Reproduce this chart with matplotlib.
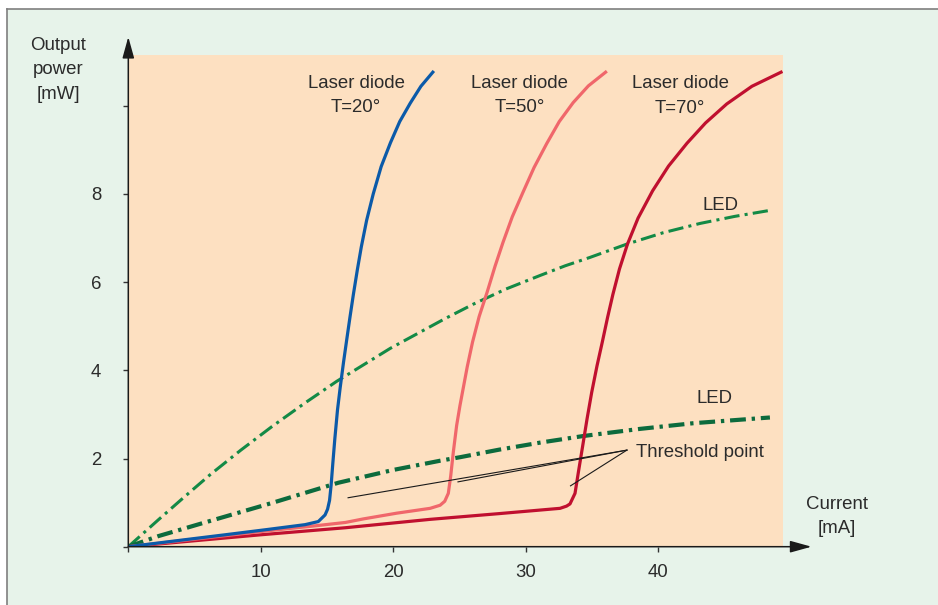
import matplotlib
matplotlib.use('Agg')
from matplotlib import pyplot as plt
from matplotlib.patches import Rectangle
from matplotlib.lines import Line2D

# curves (current in mA, power in mW)
blue_x = [0, 3.5, 7.3, 10.5, 13.35, 14.35, 14.86, 15.05, 15.2, 15.32, 15.45, 15.6, 15.8, 16.0, 16.25,
          16.5, 16.75, 17.0, 17.3, 17.6, 18.0, 18.5, 19.1, 19.8, 20.5, 21.3, 22.1, 23.0]
blue_y = [0, 0.13, 0.27, 0.39, 0.5, 0.57, 0.72, 0.85, 1.05, 1.4, 1.9, 2.45, 3.1, 3.6, 4.17,
          4.7, 5.22, 5.72, 6.28, 6.8, 7.4, 8.0, 8.62, 9.16, 9.64, 10.06, 10.44, 10.76]

pink_x = [0, 5, 10.5, 14, 16.4, 17.75, 20.27, 22.8, 23.55, 23.9, 24.17, 24.35, 24.55, 24.8, 25.05,
          25.3, 25.6, 26.0, 26.5, 27.1, 27.7, 28.3, 29.0, 29.8, 30.65, 31.6, 32.55, 33.6, 34.75, 36.05]
pink_y = [0, 0.17, 0.36, 0.47, 0.55, 0.63, 0.76, 0.87, 0.94, 1.03, 1.21, 1.6, 2.15, 2.75, 3.2,
          3.6, 4.08, 4.64, 5.22, 5.77, 6.36, 6.9, 7.48, 8.03, 8.6, 9.14, 9.64, 10.07, 10.45, 10.76]

red_x = [0, 10, 16.4, 22.79, 28, 32.61, 33.1, 33.36, 33.74, 34.0, 34.3, 34.65, 35.0, 35.4, 35.8,
         36.2, 36.6, 37.1, 37.7, 38.5, 39.6, 40.8, 42.2, 43.6, 45.2, 47.1, 49.3]
red_y = [0, 0.27, 0.43, 0.62, 0.75, 0.87, 0.92, 0.97, 1.21, 1.7, 2.25, 2.9, 3.5, 4.1, 4.64,
         5.2, 5.72, 6.3, 6.86, 7.45, 8.07, 8.63, 9.15, 9.61, 10.04, 10.44, 10.76]

led1_x = [0, 2.27, 4.2, 6.17, 8.5, 10.83, 13.3, 15.74, 19.8, 23.85, 26.06, 28.5, 31.1, 33.0,
          34.87, 37.64, 40.4, 43.18, 45.8, 48.34]
led1_y = [0, 0.61, 1.12, 1.63, 2.19, 2.72, 3.25, 3.75, 4.5, 5.16, 5.5, 5.84, 6.15, 6.37,
          6.56, 6.86, 7.12, 7.33, 7.49, 7.62]

led2_x = [0, 2.27, 5.79, 10.83, 15.86, 20.0, 23.56, 25.07, 28.0, 31.1, 34.37, 38.6, 42.67, 48.46]
led2_y = [0, 0.24, 0.55, 0.99, 1.45, 1.74, 1.95, 2.03, 2.2, 2.36, 2.51, 2.67, 2.8, 2.93]

x_ticks = [0, 10, 20, 30, 40]
x_labels = ['', '10', '20', '30', '40']
y_ticks = [0, 2, 4, 6, 8, 10]
y_labels = ['', '2', '4', '6', '8', '']

# threshold pointer: apex and the three ends
thr_apex = (37.66, 2.19)
thr_ends = [(16.6, 1.11), (24.9, 1.47), (33.4, 1.38)]

plt.rcParams['font.family'] = ['Liberation Sans', 'DejaVu Sans']
txt = '#2b2b2b'
W, H = 938, 605

fig = plt.figure(figsize=(W / 100, H / 100), dpi=100, facecolor='white')
fig.patches.append(Rectangle((7 / W, 0), 1, (H - 9) / H, transform=fig.transFigure,
                             facecolor='#e7f3ea', edgecolor='none', zorder=-10))
fig.lines.append(Line2D([7 / W, 1], [(H - 9) / H] * 2, transform=fig.transFigure,
                        color='#7f7f7f', lw=1.2, zorder=-5))
fig.lines.append(Line2D([7 / W] * 2, [0, (H - 9) / H], transform=fig.transFigure,
                        color='#7f7f7f', lw=1.2, zorder=-5))

x0, y0 = 128.3, 546.7
sx, sy = 13.24, 44.1
ax = fig.add_axes([x0 / W, (H - y0) / H, (783 - x0) / W, (y0 - 55) / H])
ax.set_zorder(1)
ax.set_facecolor('#fde0c1')
ax.set_xlim(0, (783 - x0) / sx)
ax.set_ylim(0, (y0 - 55) / sy)
for s in ax.spines.values():
    s.set_visible(False)

ax.plot(led1_x, led1_y, color='#138a46', lw=2.2, linestyle=(0, (5, 1.7, 1, 1.7)))
ax.plot(led2_x, led2_y, color='#0c6b3d', lw=3.0, linestyle=(0, (3.8, 1.4, 0.8, 1.4)))
ax.plot(red_x, red_y, color='#c0102f', lw=2.3, solid_joinstyle='round')
ax.plot(pink_x, pink_y, color='#f0676b', lw=2.3, solid_joinstyle='round')
ax.plot(blue_x, blue_y, color='#0b5aa9', lw=2.3, solid_joinstyle='round')

for ex, ey in thr_ends:
    ax.plot([ex, thr_apex[0]], [ey, thr_apex[1]], color='#1a1a1a', lw=0.8)

# axes with arrow heads
arrow = dict(arrowstyle='-|>,head_length=1.3,head_width=0.36', color='#1a1a1a', lw=1.1,
             shrinkA=0, shrinkB=0, mutation_scale=10)
ax.annotate('', xy=(51.6, 0), xytext=(0, 0), arrowprops=arrow, annotation_clip=False)
ax.annotate('', xy=(0, 11.56), xytext=(0, 0), arrowprops=arrow, annotation_clip=False)

fs = 13.4
ax.set_xticks(x_ticks, x_labels)
ax.set_yticks(y_ticks, y_labels)
ax.tick_params(axis='x', direction='out', length=3.6, width=1, color='#333333', pad=9,
               labelsize=fs, labelcolor=txt)
ax.tick_params(axis='y', direction='out', length=3.6, width=1, color='#333333', pad=16,
               labelsize=fs, labelcolor=txt)

ax.text(17.2, 10.24, 'Laser diode\nT=20°', ha='center', va='center', fontsize=fs, color=txt, linespacing=1.55)
ax.text(29.55, 10.24, 'Laser diode\nT=50°', ha='center', va='center', fontsize=fs, color=txt, linespacing=1.55)
ax.text(41.67, 10.22, 'Laser diode\nT=70°', ha='center', va='center', fontsize=fs, color=txt, linespacing=1.55)
ax.text(44.7, 7.73, 'LED', ha='center', va='center', fontsize=fs, color=txt)
ax.text(44.3, 3.37, 'LED', ha='center', va='center', fontsize=fs, color=txt)
ax.text(38.35, 2.13, 'Threshold point', ha='left', va='center', fontsize=fs, color=txt)
ax.text(-5.31, 10.81, 'Output\npower\n[mW]', ha='center', va='center', fontsize=fs, color=txt,
        linespacing=1.55, clip_on=False)
ax.text(53.5, 0.68, 'Current\n[mA]', ha='center', va='center', fontsize=fs, color=txt,
        linespacing=1.5, clip_on=False)

fig.savefig('out.png', dpi=100, facecolor=fig.get_facecolor())
